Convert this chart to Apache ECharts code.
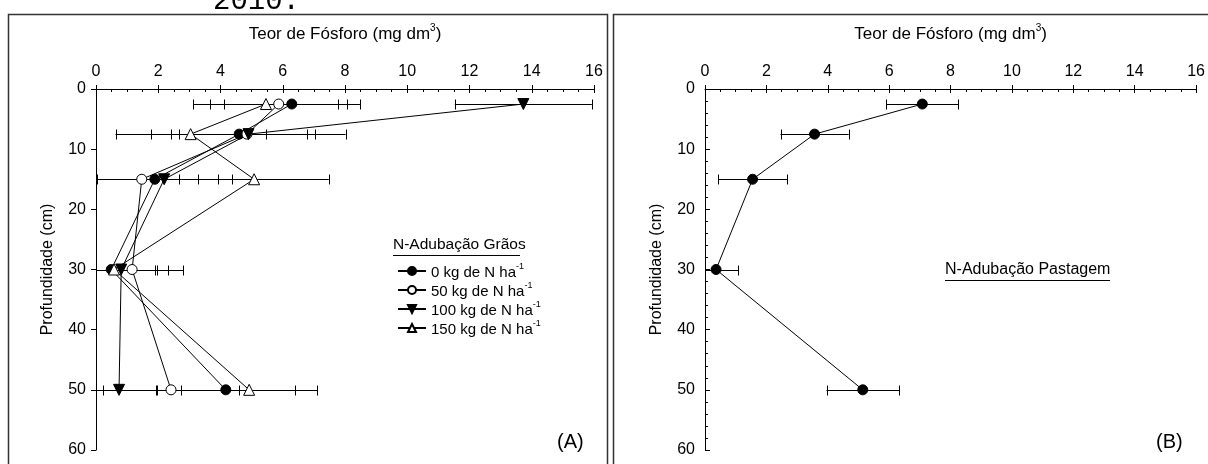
<!DOCTYPE html>
<html>
<head>
<meta charset="utf-8">
<script src="https://cdn.jsdelivr.net/npm/echarts@6/dist/echarts.min.js"></script>
<style>
html,body{margin:0;padding:0;background:#fff;}
#c{width:1208px;height:464px;}
</style>
</head>
<body>
<div id="c"></div>
<script>
// ---- data ----
const depths = [2.5, 7.5, 15, 30, 50];
const seriesNames = ['0 kg de N ha', '50 kg de N ha', '100 kg de N ha', '150 kg de N ha'];
const p0   = [6.29, 4.60, 1.89, 0.49, 4.17];
const e0   = [2.19, 2.19, 2.04, 1.40, 2.21];
const p50  = [5.87, 4.85, 1.47, 1.16, 2.41];
const e50  = [2.20, 2.19, 1.81, 1.65, 2.19];
const p100 = [13.73, 4.90, 2.19, 0.81, 0.74];
const e100 = [2.20, 3.12, 2.17, 1.49, 1.20];
const p150 = [5.46, 3.04, 5.08, 0.58, 4.92];
const e150 = [2.33, 2.41, 2.40, 1.38, 2.19];
const pPast = [7.08, 3.57, 1.55, 0.36, 5.14];
const ePast = [1.17, 1.11, 1.12, 0.73, 1.18];
const xTickLabels = ['0','2','4','6','8','10','12','14','16'];
const yTickLabels = ['0','10','20','30','40','50','60'];

const FONT = 'Liberation Sans, Arial, sans-serif';
const chart = echarts.init(document.getElementById('c'), null, {renderer: 'canvas'});

function errRender(params, api) {
  const x = api.value(0), y = api.value(1), e = api.value(2);
  const lo = Math.max(0, x - e), hi = x + e;
  const a = api.coord([lo, y]), b = api.coord([hi, y]);
  const yy = Math.round(a[1]) + 0.5;
  const h = 5;
  const st = {stroke: '#000', lineWidth: 1};
  const ch = [{type: 'line', shape: {x1: a[0], y1: yy, x2: b[0], y2: yy}, style: st}];
  if (x - e >= 0) {
    const xa = Math.round(a[0]) + 0.5;
    ch.push({type: 'line', shape: {x1: xa, y1: yy - h, x2: xa, y2: yy + h}, style: st});
  }
  const xb = Math.round(b[0]) + 0.5;
  ch.push({type: 'line', shape: {x1: xb, y1: yy - h, x2: xb, y2: yy + h}, style: st});
  return {type: 'group', children: ch};
}

function pairs(vals) { return depths.map((d, i) => [vals[i], d]); }
function errData(vals, errs) { return depths.map((d, i) => [vals[i], d, errs[i]]); }

const symbolDefs = [
  {symbol: 'circle', size: 10, fill: '#000', rotate: 0},
  {symbol: 'circle', size: 10, fill: '#fff', rotate: 0},
  {symbol: 'triangle', size: 11, fill: '#000', rotate: 180},
  {symbol: 'triangle', size: 11, fill: '#fff', rotate: 0}
];
const leftVals = [p0, p50, p100, p150];
const leftErrs = [e0, e50, e100, e150];

const series = [];
leftVals.forEach((v, k) => {
  series.push({
    type: 'custom', xAxisIndex: 0, yAxisIndex: 0, renderItem: errRender,
    data: errData(v, leftErrs[k]), encode: {x: 0, y: 1}, z: 1, silent: true
  });
});
leftVals.forEach((v, k) => {
  const s = symbolDefs[k];
  series.push({
    type: 'line', name: seriesNames[k], xAxisIndex: 0, yAxisIndex: 0,
    data: pairs(v), symbol: s.symbol, symbolSize: s.size, symbolRotate: s.rotate,
    showAllSymbol: true, animation: false, z: 3,
    lineStyle: {color: '#000', width: 1},
    itemStyle: {color: s.fill, borderColor: '#000', borderWidth: 1}
  });
});
series.push({
  type: 'custom', xAxisIndex: 2, yAxisIndex: 1, renderItem: errRender,
  data: errData(pPast, ePast), encode: {x: 0, y: 1}, z: 1, silent: true
});
series.push({
  type: 'line', name: 'Pastagem', xAxisIndex: 2, yAxisIndex: 1,
  data: pairs(pPast), symbol: 'circle', symbolSize: 10, animation: false, z: 3,
  lineStyle: {color: '#000', width: 1},
  itemStyle: {color: '#000', borderColor: '#000', borderWidth: 1}
});

const txt = {color: '#000', fontFamily: FONT};
const axisLineStyle = {show: true, lineStyle: {color: '#000', width: 1}};
const titleRich = {
  n: {fontSize: 17, fontFamily: FONT, color: '#000', lineHeight: 20, verticalAlign: 'bottom'},
  s: {fontSize: 10, fontFamily: FONT, color: '#000', verticalAlign: 'top', lineHeight: 20}
};

function xMain(grid) {
  return {
    type: 'value', gridIndex: grid, position: 'top', min: 0, max: 16, interval: 2,
    axisLine: axisLineStyle,
    axisTick: {show: true, inside: true, length: 4, lineStyle: {color: '#000'}},
    minorTick: {show: true, splitNumber: 4, length: 3, lineStyle: {color: '#000'}},
    splitLine: {show: false}, minorSplitLine: {show: false},
    axisLabel: Object.assign({fontSize: 16, margin: 9, formatter: v => xTickLabels[v / 2]}, txt),
    name: '{n|Teor de Fósforo (mg dm}{s|3}{n|)}', nameLocation: 'middle', nameGap: 46,
    nameTextStyle: {rich: titleRich}
  };
}
function xOver(grid) {
  return {
    type: 'value', gridIndex: grid, position: 'top', min: 0, max: 16, interval: 2,
    axisLine: {show: false}, axisLabel: {show: false}, splitLine: {show: false},
    axisTick: {show: true, inside: false, length: 4, lineStyle: {color: '#000'}}
  };
}
function yMain(grid, minor) {
  return {
    type: 'value', gridIndex: grid, inverse: true, min: 0, max: 60, interval: 10,
    axisLine: axisLineStyle,
    axisTick: {show: true, inside: !!minor, length: minor ? 3 : 5, lineStyle: {color: '#000'}},
    minorTick: {show: !!minor, splitNumber: 5, length: 3, lineStyle: {color: '#000'}},
    splitLine: {show: false},
    axisLabel: Object.assign({fontSize: 16, margin: 10, formatter: v => yTickLabels[v / 10]}, txt),
    name: 'Profundidade (cm)', nameLocation: 'middle', nameGap: 40, nameRotate: 90,
    nameTextStyle: Object.assign({fontSize: 16}, txt)
  };
}
function yOver(grid) {
  return {
    type: 'value', gridIndex: grid, inverse: true, min: 0, max: 60, interval: 10,
    axisLine: {show: false}, axisLabel: {show: false}, splitLine: {show: false},
    axisTick: {show: true, inside: false, length: 5, lineStyle: {color: '#000'}}
  };
}

const legendRich = {
  n: {fontSize: 15, fontFamily: FONT, color: '#000', lineHeight: 18, verticalAlign: 'bottom'},
  s: {fontSize: 9, fontFamily: FONT, color: '#000', lineHeight: 18, verticalAlign: 'top'}
};

const option = {
  backgroundColor: '#fff',
  animation: false,
  grid: [
    {left: 96, top: 89, width: 498, height: 361},
    {left: 705, top: 89, width: 494, height: 361}
  ],
  xAxis: [xMain(0), xOver(0), xMain(1), xOver(1)],
  yAxis: [yMain(0, false), yMain(1, true), yOver(1)],
  legend: {
    data: seriesNames, orient: 'vertical', left: 392, top: 257,
    itemWidth: 28, itemHeight: 10, itemGap: 1, selectedMode: false,
    formatter: name => '{n|' + name + '}{s|-1}',
    textStyle: {rich: legendRich}
  },
  series: series,
  graphic: [
    {type: 'rect', shape: {x: 8.5, y: 14.5, width: 599, height: 470}, style: {fill: 'none', stroke: '#333', lineWidth: 1.5}, silent: true},
    {type: 'rect', shape: {x: 613.5, y: 14.5, width: 600, height: 470}, style: {fill: 'none', stroke: '#333', lineWidth: 1.5}, silent: true},
    {type: 'text', left: 213, top: -13, style: {text: '2010.', fontSize: 29, fontFamily: 'Liberation Mono, monospace', fill: '#000'}},
    {type: 'text', left: 393, top: 237, style: {text: 'N-Adubação Grãos', fontSize: 15.5, fontFamily: FONT, fill: '#000'}},
    {type: 'line', shape: {x1: 393, y1: 255.5, x2: 520, y2: 255.5}, style: {stroke: '#000', lineWidth: 1}},
    {type: 'text', left: 945, top: 262, style: {text: 'N-Adubação Pastagem', fontSize: 16, fontFamily: FONT, fill: '#000'}},
    {type: 'line', shape: {x1: 945, y1: 280.5, x2: 1110, y2: 280.5}, style: {stroke: '#000', lineWidth: 1}},
    {type: 'text', left: 557, top: 432, style: {text: '(A)', fontSize: 20, fontFamily: FONT, fill: '#000'}},
    {type: 'text', left: 1156, top: 432, style: {text: '(B)', fontSize: 20, fontFamily: FONT, fill: '#000'}}
  ]
};
chart.setOption(option);
</script>
</body>
</html>
